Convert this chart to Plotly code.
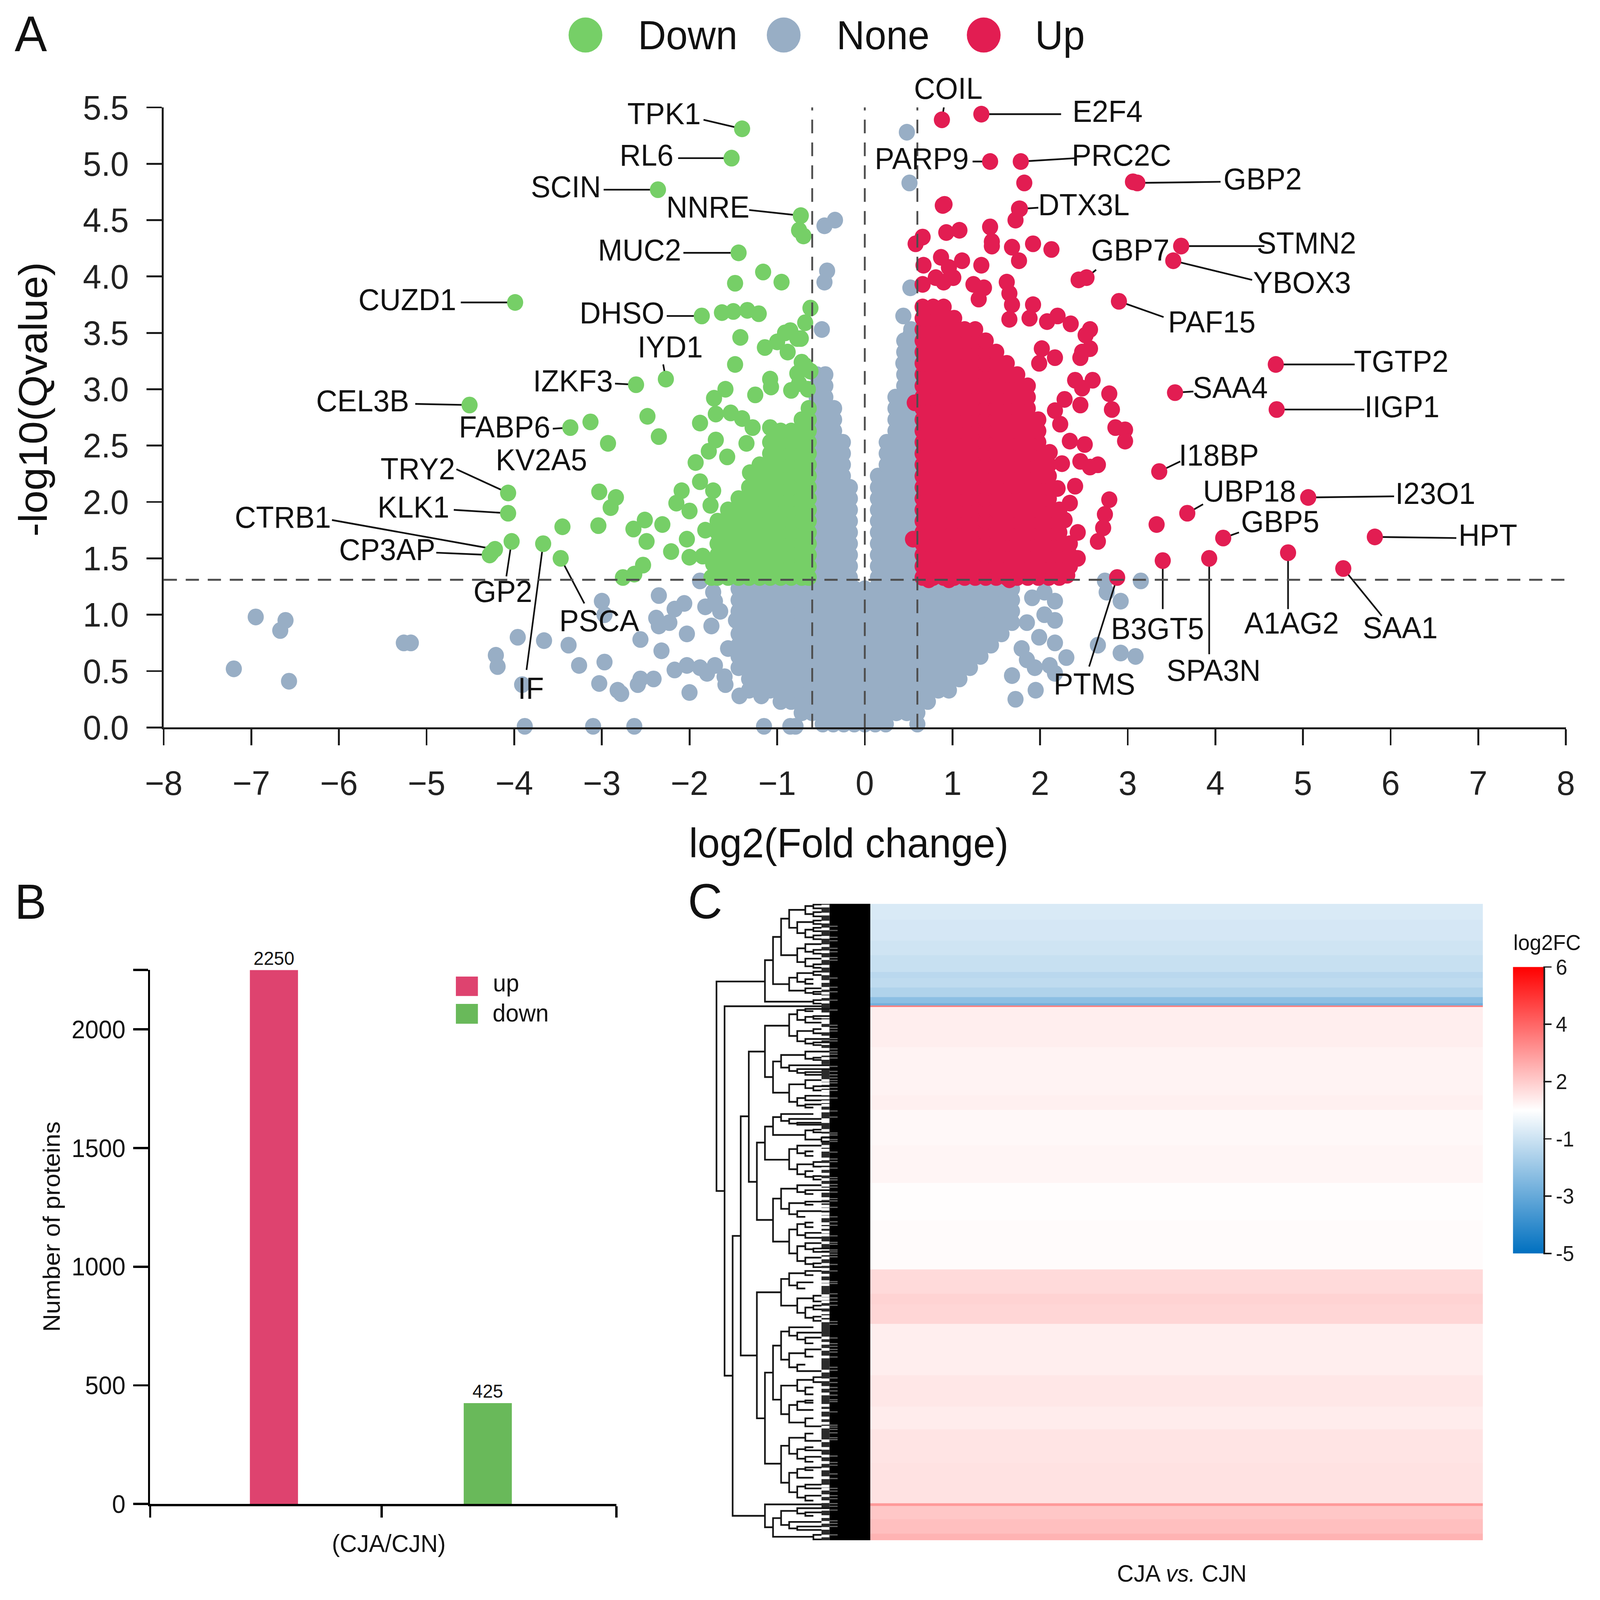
import numpy as np
import plotly.graph_objects as go

W = 4359
H = 4201
FONT = "Liberation Sans"
INK = "#1c1c1c"

# panel A: labelled proteins (point, label centre, start of leader line)
gene_names = ['TPK1', 'RL6', 'SCIN', 'NNRE', 'MUC2', 'CUZD1', 'DHSO', 'IYD1', 'IZKF3', 'CEL3B', 'FABP6', 'TRY2',
              'KLK1', 'CTRB1', 'CP3AP', 'GP2', 'IF', 'PSCA']
gene_x = [-1.40, -1.52, -2.36, -0.73, -1.44, -3.99, -1.86, -2.27, -2.61, -4.51, -3.36, -4.07,
          -4.07, -4.22, -4.28, -4.03, -3.67, -3.47]
gene_y = [5.31, 5.05, 4.77, 4.54, 4.21, 3.77, 3.65, 3.09, 3.04, 2.86, 2.66, 2.08,
          1.90, 1.58, 1.53, 1.65, 1.63, 1.50]
text_x = [-2.29, -2.49, -3.41, -1.79, -2.57, -5.22, -2.77, -2.22, -3.33, -5.73, -4.11, -5.10,
          -5.15, -6.64, -5.45, -4.13, -3.81, -3.03]
text_y = [5.42, 5.05, 4.77, 4.59, 4.21, 3.77, 3.65, 3.35, 3.05, 2.87, 2.64, 2.27,
          1.93, 1.84, 1.55, 1.18, 0.32, 0.92]
lead_x = [-1.84, -2.13, -2.98, -1.32, -2.07, -4.61, -2.26, -2.30, -2.85, -5.13, -3.56, -4.66,
          -4.69, -6.08, -4.89, -4.09, -3.86, -3.20]
lead_y = [5.39, 5.05, 4.77, 4.59, 4.21, 3.77, 3.65, 3.22, 3.05, 2.87, 2.65, 2.29,
          1.93, 1.84, 1.55, 1.34, 0.51, 1.10]

# COIL sits above the axis range, so its label goes with the annotations further down
up_names = ['E2F4', 'PARP9', 'PRC2C', 'GBP2', 'DTX3L', 'STMN2', 'YBOX3', 'GBP7', 'PAF15', 'TGTP2', 'SAA4',
            'IIGP1', 'I18BP', 'UBP18', 'I23O1', 'GBP5', 'HPT', 'A1AG2', 'SAA1', 'SPA3N', 'B3GT5', 'PTMS']
up_x = [1.33, 1.43, 1.78, 3.11, 1.77, 3.61, 3.52, 2.53, 2.90, 4.69, 3.54,
        4.70, 3.36, 3.68, 5.06, 4.09, 5.82, 4.83, 5.46, 3.93, 3.40, 2.88]
up_y = [5.44, 5.02, 5.02, 4.83, 4.60, 4.27, 4.14, 3.99, 3.78, 3.22, 2.97,
        2.82, 2.27, 1.90, 2.04, 1.68, 1.69, 1.55, 1.41, 1.50, 1.48, 1.33]
up_text_x = [2.77, 0.65, 2.93, 4.54, 2.50, 5.04, 4.99, 3.03, 3.96, 6.12, 4.17,
             6.13, 4.04, 4.39, 6.51, 4.74, 7.11, 4.87, 6.11, 3.98, 3.34, 2.62]
up_text_y = [5.44, 5.02, 5.05, 4.84, 4.61, 4.27, 3.92, 4.21, 3.57, 3.22, 2.99,
             2.82, 2.39, 2.07, 2.05, 1.80, 1.68, 0.90, 0.86, 0.48, 0.85, 0.36]
up_lead_x = [2.24, 1.23, 2.41, 4.06, 1.98, 4.56, 4.42, 2.64, 3.41, 5.59, 3.75,
             5.70, 3.60, 3.86, 6.04, 4.27, 6.75, 4.83, 5.90, 3.93, 3.40, 2.56]
up_lead_y = [5.44, 5.02, 5.05, 4.84, 4.61, 4.27, 3.97, 4.06, 3.64, 3.22, 2.98,
             2.82, 2.36, 1.98, 2.05, 1.73, 1.68, 1.05, 0.99, 0.65, 1.05, 0.54]
coil_x = [0.88, 0.91]
coil_y = [5.39, 5.54]

# unlabelled outliers
down_x = [-0.75, -0.70, -1.48, -1.16, -0.95, -1.63, -1.50, -1.34, -1.21, -1.42, -1.48, -1.14, -0.91, -0.88, -1.00,
          -0.77, -0.62, -0.68, -0.85, -0.73, -1.08, -1.07, -1.25, -0.84, -1.59, -1.72, -0.77, -0.72, -0.68, -0.62,
          -0.75, -0.65, -1.70, -1.53, -1.40, -1.28, -1.88, -1.70, -1.78, -1.57, -1.35, -1.31, -1.08, -3.13, -2.93,
          -2.48, -2.35, -3.03, -2.84, -2.90, -3.04, -3.45, -2.64, -2.51, -2.49, -2.31, -2.21, -2.53, -2.63, -2.76,
          -1.93, -1.88, -1.73, -2.09, -2.15, -2.00, -1.76, -2.03, -2.00, -1.85, -1.73, -1.75, -1.82, -4.26]
down_y = [4.41, 4.36, 3.94, 4.04, 3.95, 3.68, 3.69, 3.70, 3.67, 3.46, 3.22, 3.37, 3.50, 3.33, 3.42,
          3.45, 3.72, 3.59, 3.52, 3.45, 3.09, 3.02, 2.95, 2.99, 3.00, 2.92, 3.14, 3.24, 3.21, 3.16,
          3.05, 3.00, 2.78, 2.79, 2.74, 2.66, 2.70, 2.55, 2.45, 2.40, 2.52, 2.26, 2.66, 2.71, 2.52,
          2.76, 2.58, 2.09, 2.04, 1.95, 1.79, 1.78, 1.76, 1.84, 1.65, 1.80, 1.56, 1.44, 1.36, 1.33,
          2.35, 2.18, 2.10, 2.10, 1.99, 1.92, 1.97, 1.67, 1.51, 1.52, 1.45, 1.33, 1.75, 1.55]
other_up_x = [0.89, 0.91, 1.82, 1.76, 1.72, 0.93, 1.08, 1.43, 1.45, 1.45, 0.66, 0.58, 1.68, 1.92, 2.13, 1.76,
              0.87, 1.11, 1.33, 0.67, 0.96, 0.81, 1.01, 0.90, 0.66, 1.24, 1.36, 1.30, 1.62, 1.65, 1.68, 1.92,
              1.88, 1.65, 2.08, 2.20, 2.35, 2.57, 2.52, 2.57, 2.48, 2.46, 2.02, 2.17, 1.99, 2.60, 2.40, 2.48,
              2.79, 2.82, 2.86, 2.97, 2.97, 2.46, 2.28, 2.17, 2.51, 2.46, 2.66, 2.57, 2.23, 2.34, 2.11, 2.25,
              2.40, 2.20, 2.34, 2.08, 2.28, 2.43, 2.17, 2.79, 2.74, 2.72, 2.66, 2.43, 2.31, 2.17, 2.05, 2.22,
              0.57, 0.55, 0.73, 0.96, 1.65, 3.33, 3.06, 2.44, 0.88]
other_up_y = [4.63, 4.64, 4.83, 4.60, 4.50, 4.39, 4.41, 4.44, 4.31, 4.27, 4.35, 4.29, 4.26, 4.29, 4.24, 4.14,
              4.17, 4.14, 4.10, 4.10, 4.08, 3.99, 3.99, 3.95, 3.93, 3.93, 3.90, 3.80, 3.95, 3.85, 3.75, 3.75,
              3.63, 3.62, 3.60, 3.65, 3.58, 3.53, 3.48, 3.36, 3.33, 3.28, 3.36, 3.28, 3.23, 3.08, 3.08, 3.01,
              2.96, 2.82, 2.66, 2.64, 2.54, 2.86, 2.91, 2.81, 2.51, 2.36, 2.33, 2.31, 2.69, 2.54, 2.44, 2.34,
              2.14, 2.12, 1.99, 1.99, 1.84, 1.73, 1.74, 2.02, 1.89, 1.77, 1.65, 1.50, 1.35, 1.55, 1.40, 1.62,
              2.88, 1.67, 1.31, 1.31, 1.31, 1.80, 4.84, 3.97, 5.39]
none_x = [0.48, 0.51, -0.46, -0.34, -0.46, -0.49, 0.44, 0.52, 0.52, 0.44, -0.43,
          -8.02, -6.95, -6.61, -6.67, -7.20, -6.57, -5.26, -5.18, -3.96, -4.21, -4.19, -3.91, -3.88, -3.66, -3.38,
          -3.26, -3.00, -2.97, -2.97, -3.03, -2.82, -2.78, -3.10, -2.63, -2.56, -2.35, -2.38, -2.35, -2.32, -2.56,
          -2.41, -2.59, -2.17, -2.06, -2.23, -2.03, -2.17, -2.03, -1.88, -1.71, -1.80, -2.00, -1.59, -1.43, -1.18,
          -1.15, -0.85, -0.79, -1.88, -1.73, -1.82, -1.71, -1.47, -1.56, -1.65, -1.60, -1.75,
          1.68, 1.94, 2.17, 2.11, 1.79, 1.99, 2.17, 1.85, 2.05, 2.17, 1.91, 2.17, 2.05, 2.66, 2.92, 3.09, 2.92, 2.74,
          3.15, 2.76, 1.72, 1.85, 1.95, 2.30]
none_y = [5.28, 4.83, 4.45, 4.50, 3.95, 3.53, 3.65, 3.90, 3.48, 3.23, 4.05,
          1.31, 0.98, 0.95, 0.86, 0.52, 0.41, 0.75, 0.75, 0.80, 0.64, 0.54, 0.38, 0.01, 0.77, 0.73,
          0.55, 1.12, 1.00, 0.58, 0.39, 0.33, 0.30, 0.01, 0.01, 0.78, 1.17, 0.97, 0.90, 0.68, 0.43,
          0.43, 0.38, 1.05, 1.10, 0.93, 0.83, 0.51, 0.55, 0.53, 0.55, 0.48, 0.31, 0.38, 0.28, 0.28,
          0.01, 0.01, 0.01, 1.30, 1.20, 1.07, 1.12, 0.95, 0.70, 1.03, 0.45, 0.90,
          0.46, 0.53, 0.48, 0.55, 0.70, 0.80, 0.75, 0.93, 1.00, 0.95, 1.15, 1.12, 1.20, 0.73, 0.66, 0.63, 1.12, 1.30,
          1.30, 1.20, 0.25, 0.60, 0.33, 0.62]

# the solid masses, where single points cannot be read: rows and how far each column fills them
mass_rows = [0.03, 0.13, 0.23, 0.33, 0.43, 0.53, 0.63, 0.73, 0.83, 0.93, 1.03, 1.13, 1.23, 1.33, 1.43, 1.53, 1.63, 1.73,
             1.83, 1.93, 2.03, 2.13, 2.23, 2.33, 2.43, 2.53, 2.63, 2.73, 2.83, 2.93, 3.03, 3.13, 3.23, 3.33, 3.43,
             3.53, 3.63, 3.73]
mass_down_x = [-1.68, -1.56, -1.44, -1.32, -1.20, -1.08, -0.96, -0.84, -0.72, -0.64]
mass_down_from = [13, 13, 13, 13, 13, 13, 13, 13, 13, 13]
mass_down_to = [19, 20, 21, 22, 24, 26, 27, 27, 28, 29]
mass_up_x = [0.66, 0.78, 0.90, 1.02, 1.14, 1.26, 1.38, 1.50, 1.62, 1.74, 1.86, 1.98, 2.10, 2.22, 2.34]
mass_up_from = [13, 13, 13, 13, 13, 13, 13, 13, 13, 13, 13, 13, 13, 13, 14]
mass_up_to = [38, 38, 38, 37, 36, 36, 35, 34, 33, 32, 31, 28, 24, 20, 17]
mass_none_x = [-1.44, -1.32, -1.20, -1.08, -0.96, -0.84, -0.72, -0.60, -0.48, -0.36, -0.24, -0.12, 0.00, 0.12, 0.24,
               0.36, 0.48, 0.60, 0.72, 0.84, 0.96, 1.08, 1.20, 1.32, 1.44, 1.56, 1.68,
               -0.55, -0.45, -0.35, -0.25, -0.17, 0.15, 0.25, 0.35, 0.45, 0.53]
mass_none_from = [5, 3, 3, 3, 2, 2, 1, 1, 0, 0, 0, 0, 0, 0, 0, 1, 1, 0, 2, 3, 3, 4, 5, 6, 7, 8, 9,
                  13, 13, 13, 13, 13, 13, 13, 13, 13, 13]
mass_none_to = [13, 13, 13, 13, 13, 13, 13, 13, 13, 13, 13, 13, 13, 13, 13, 13, 13, 13, 13, 13, 13, 13, 13, 13, 13, 13,
                13, 32, 32, 29, 26, 22, 23, 26, 30, 35, 36]

fc_cut = 0.6
q_cut = 1.31

# panel B
bar_pos = [0, 1]
bar_counts = [2250, 425]
bar_colors = ['#DE436F', '#69B95A']
count_ticks = [0, 500, 1000, 1500, 2000, 2250]
count_tick_text = ['0', '500', '1000', '1500', '2000', '']

# panel C: one column, bands top to bottom, log2FC of each band
heat_edges = [2373, 2415, 2470, 2508, 2552, 2568, 2593, 2618, 2634, 2640, 2644, 2749, 2876, 2914, 3007, 3106, 3205,
              3333, 3397, 3424, 3476, 3611, 3693, 3753, 3841, 3947, 3954, 3989, 4027, 4044]
heat_log2fc = [-0.62, -0.75, -0.9, -1.1, -1.35, -1.25, -1.55, -2.25, -2.75, 3.5, 1.0, 0.85, 0.95, 0.7, 0.8, 0.55, 0.62,
               1.6, 1.8, 1.7, 1.0, 1.2, 1.05, 1.3, 1.35, 3.0, 2.1, 2.25, 2.5]
cbar_ticks = [-5, -3, -1, 2, 4, 6]

# dendrogram: depth, top row, bottom row, depth reached by top arm, depth reached by bottom arm
dendro_branches = [
    (14, 2577, 3127, 8, 13), (13, 2642, 3612, 1, 12), (12, 3245, 3980, 11, 8), (11, 2931, 3559, 10, 9),
    (10, 2761, 3103, 8, 9), (9, 3000, 3203, 8, 7), (9, 3393, 3724, 6, 8),
    (8, 2521, 2630, 7, 2), (7, 2460, 2584, 6, 5), (6, 2412, 2508, 5, 4), (5, 2389, 2436, 3, 4), (3, 2379, 2400, 2, 2),
    (2, 2375, 2385, 1, 1), (2, 2395, 2406, 1, 1), (4, 2421, 2450, 2, 3), (2, 2417, 2426, 1, 1), (3, 2441, 2461, 2, 2),
    (2, 2436, 2445, 1, 1), (2, 2456, 2466, 1, 1), (4, 2490, 2526, 3, 3), (3, 2479, 2499, 1, 2), (2, 2494, 2504, 1, 1),
    (3, 2517, 2537, 1, 2), (2, 2532, 2541, 1, 1), (5, 2567, 2601, 4, 3), (4, 2555, 2578, 2, 3), (2, 2551, 2560, 1, 1),
    (3, 2571, 2583, 2, 2), (3, 2595, 2607, 1, 2), (2, 2604, 2610, 1, 1), (2, 2626, 2635, 1, 1),
    (8, 2693, 2828, 5, 7), (7, 2787, 2869, 6, 5), (6, 2770, 2803, 3, 5), (5, 2797, 2812, 0, 4), (4, 2807, 2817, 0, 3),
    (3, 2815, 2822, 1, 1), (5, 2663, 2720, 4, 4), (4, 2652, 2678, 3, 3), (3, 2649, 2655, 0, 2), (3, 2670, 2685, 2, 1),
    (2, 2668, 2675, 0, 1), (4, 2707, 2734, 2, 3), (2, 2702, 2713, 1, 1), (3, 2728, 2740, 0, 2), (2, 2737, 2744, 0, 1),
    (5, 2847, 2893, 3, 4), (3, 2836, 2857, 1, 2), (2, 2852, 2863, 0, 1), (4, 2883, 2903, 3, 3), (3, 2877, 2889, 1, 1),
    (3, 2900, 2908, 1, 2), (3, 2761, 2780, 0, 2), (2, 2777, 2783, 1, 1),
    (8, 2958, 3045, 7, 5), (7, 2933, 2980, 6, 3), (6, 2925, 2943, 2, 5), (5, 2938, 2950, 1, 4), (4, 2948, 2953, 1, 1),
    (3, 2968, 2992, 2, 1), (2, 2966, 2973, 1, 1), (1, 2987, 2997, 0, 0), (5, 3017, 3070, 4, 4), (4, 3008, 3028, 1, 3),
    (3, 3023, 3035, 2, 2), (4, 3057, 3083, 2, 3), (2, 3051, 3063, 1, 1), (3, 3075, 3090, 2, 2), (2, 3088, 3097, 1, 1),
    (7, 3147, 3260, 6, 5), (6, 3121, 3174, 4, 5), (4, 3112, 3130, 1, 3), (3, 3125, 3135, 0, 2), (5, 3159, 3188, 3, 4),
    (3, 3155, 3163, 0, 2), (4, 3180, 3195, 1, 3), (5, 3228, 3291, 4, 4), (4, 3214, 3243, 3, 3), (3, 3210, 3222, 2, 2),
    (3, 3237, 3250, 1, 1), (4, 3272, 3311, 3, 3), (3, 3264, 3280, 1, 2), (2, 3278, 3287, 0, 0), (3, 3302, 3319, 1, 2),
    (2, 3317, 3327, 1, 1),
    (6, 3358, 3428, 5, 4), (5, 3343, 3375, 3, 4), (3, 3337, 3348, 1, 2), (4, 3367, 3383, 2, 3), (4, 3409, 3447, 2, 3),
    (2, 3402, 3417, 1, 1), (3, 3433, 3460, 2, 2), (2, 3428, 3438, 1, 1), (2, 3457, 3468, 1, 1),
    (8, 3604, 3843, 7, 6), (7, 3533, 3675, 6, 6), (6, 3496, 3570, 5, 5), (5, 3485, 3507, 2, 4), (4, 3499, 3517, 1, 3),
    (3, 3512, 3527, 1, 2), (5, 3553, 3590, 3, 4), (3, 3543, 3562, 1, 2), (4, 3583, 3600, 3, 1),
    (6, 3638, 3713, 4, 5), (4, 3623, 3652, 2, 3), (2, 3616, 3629, 1, 1), (3, 3643, 3661, 2, 2), (5, 3689, 3735, 4, 3),
    (4, 3680, 3702, 3, 2), (3, 3677, 3683, 2, 2), (3, 3724, 3745, 2, 1),
    (6, 3796, 3893, 5, 5), (5, 3775, 3817, 3, 4), (3, 3764, 3783, 2, 1), (4, 3805, 3830, 3, 3), (3, 3800, 3808, 2, 1),
    (3, 3825, 3838, 1, 2), (5, 3867, 3918, 4, 4), (4, 3857, 3880, 3, 2), (3, 3853, 3860, 1, 2), (4, 3903, 3932, 3, 3),
    (3, 3898, 3908, 1, 1), (3, 3927, 3940, 1, 2),
    (8, 3950, 4010, 1, 7), (7, 3986, 4035, 6, 2), (6, 3967, 4004, 4, 5), (4, 3960, 3974, 0, 3), (3, 3971, 3980, 1, 2),
    (5, 3996, 4013, 1, 4), (4, 4008, 4017, 1, 1), (2, 4030, 4042, 1, 1),
]
leaf_gap_rows = [2379, 2400, 2421, 2439, 2461, 2483, 2499, 2517, 2537, 2557, 2577, 2595, 2608, 2617, 2631,
                 2662, 2670, 2680, 2685, 2700, 2707, 2723, 2728, 2740, 2755, 2761, 2768, 2779, 2798, 2803,
                 2837, 2845, 2855, 2865, 2872, 2883, 2893, 2902, 2917, 2940, 2945, 2968, 2980, 2992, 3010,
                 3020, 3043, 3057, 3068, 3083, 3097, 3112, 3122, 3128, 3147, 3156, 3167, 3175, 3187, 3195,
                 3213, 3223, 3235, 3243, 3263, 3280, 3292, 3303, 3320, 3333, 3348, 3365, 3373, 3402, 3410,
                 3418, 3432, 3447, 3457, 3468, 3513, 3527, 3543, 3563, 3600, 3623, 3643, 3660, 3690, 3703,
                 3723, 3737, 3747, 3783, 3803, 3823, 3840, 3857, 3880, 3902, 3910, 3927, 3943, 3963, 3982,
                 3997, 4013, 4033]
leaf_streak_rows = [2432, 2443, 2461, 2470, 2490, 2499, 2514, 2521, 2568, 2592, 2604, 2626,
                    2652, 2692, 2700, 2707, 2727, 2733, 2754, 2762, 2768, 2778, 2800, 2813, 2822, 2830, 2837, 2843,
                    2855, 2863, 2883, 2917, 2933, 2975, 2980, 2992, 2997, 3025, 3043, 3050, 3067, 3092, 3098, 3110,
                    3117, 3130, 3147, 3153, 3170, 3195, 3208, 3217, 3245, 3262, 3267, 3282, 3287, 3293, 3300, 3320,
                    3337, 3365, 3370, 3397, 3408, 3417, 3427, 3470, 3477, 3513, 3528, 3535, 3543, 3550, 3563, 3590,
                    3598, 3618, 3630, 3643, 3652, 3663, 3675, 3680, 3707, 3742, 3747, 3753, 3762, 3775, 3780, 3823,
                    3840, 3847, 3870, 3882, 3908, 3915, 3927, 3935, 3948, 3955, 3965, 3993, 4000, 4008, 4030]


def px(x):
    return x / W


def py(y):
    return 1 - y / H


def mass_points(cols, start, stop):
    xs, ys = [], []
    for cx, a, b in zip(cols, start, stop):
        rows = mass_rows[a:b]
        xs += [cx] * len(rows)
        ys += rows
    return xs, ys


fig = go.Figure()

# panel A
mn_x, mn_y = mass_points(mass_none_x, mass_none_from, mass_none_to)
fig.add_trace(go.Scatter(x=none_x + mn_x, y=none_y + mn_y, mode='markers',
                         marker=dict(color='#98AEC5', size=44), cliponaxis=False, name='None'))

leader_x, leader_y = list(coil_x) + [None], list(coil_y) + [None]
for sx, sy, ex, ey in zip(lead_x + up_lead_x, lead_y + up_lead_y, gene_x + up_x, gene_y + up_y):
    leader_x += [sx, ex, None]
    leader_y += [sy, ey, None]
fig.add_trace(go.Scatter(x=leader_x, y=leader_y, mode='lines', line=dict(color='#111111', width=4.5),
                         cliponaxis=False, name='leaders'))

md_x, md_y = mass_points(mass_down_x, mass_down_from, mass_down_to)
fig.add_trace(go.Scatter(x=down_x + md_x + gene_x, y=down_y + md_y + gene_y, mode='markers',
                         marker=dict(color='#76CF67', size=44), cliponaxis=False, name='Down'))
mu_x, mu_y = mass_points(mass_up_x, mass_up_from, mass_up_to)
fig.add_trace(go.Scatter(x=other_up_x + mu_x + up_x, y=other_up_y + mu_y + up_y, mode='markers',
                         marker=dict(color='#E21D52', size=44), cliponaxis=False, name='Up'))

for cut in [-fc_cut, 0, fc_cut]:
    fig.add_trace(go.Scatter(x=[cut, cut], y=[0, 5.5], mode='lines',
                             line=dict(color='#4d4d4d', width=5, dash='36px,24px'), name='cut'))
fig.add_trace(go.Scatter(x=[-8, 8], y=[q_cut, q_cut], mode='lines',
                         line=dict(color='#4d4d4d', width=5, dash='36px,24px'), name='cut'))

fig.add_trace(go.Scatter(x=text_x + up_text_x + [-3.69], y=text_y + up_text_y + [2.35],
                         text=gene_names + up_names + ['KV2A5'], mode='text', textposition='middle center',
                         textfont=dict(family=FONT, size=80, color='#111111'), cliponaxis=False, name='genes'))

# panel B
fig.add_trace(go.Bar(x=bar_pos, y=bar_counts, width=[0.225, 0.225], marker=dict(color=bar_colors, line_width=0),
                     text=[str(v) for v in bar_counts], textposition='outside', cliponaxis=False,
                     textfont=dict(family=FONT, size=50, color='#111111'), xaxis='x2', yaxis='y2', name='proteins'))

# panel C, the colour bar has evenly spaced ticks that are not evenly spaced in log2FC
fig.add_trace(go.Heatmap(x=[0, 1], y=heat_edges, z=[[v] for v in np.interp(heat_log2fc, cbar_ticks, range(6))],
                         zmin=0, zmax=5, colorscale=[[0, '#0070C0'], [0.5, '#FFFFFF'], [1, '#FF0000']],
                         xaxis='x3', yaxis='y3', name='log2FC',
                         colorbar=dict(x=px(4122), xanchor='left', xpad=0, y=py(2539), yanchor='top', ypad=0,
                                       thickness=83, thicknessmode='pixels', len=752, lenmode='pixels',
                                       outlinewidth=0, ticks='outside', ticklen=23, tickwidth=4, tickcolor=INK,
                                       tickvals=list(range(6)), ticktext=[str(t) for t in cbar_ticks],
                                       tickfont=dict(family=FONT, size=56, color=INK))))

# dendrogram drawn on depth levels against the heatmap rows
fig.add_trace(go.Scatter(x=[1, 0, 0, 1, 1], y=[2373, 2373, 4044, 4044, 2373], mode='lines', fill='toself',
                         fillcolor='#2b2b2b', line_width=0, xaxis='x4', yaxis='y3', name='leaves'))
gap_x, gap_y = [], []
for r in leaf_gap_rows:
    gap_x += [1.05, 0, None]
    gap_y += [r, r, None]
fig.add_trace(go.Scatter(x=gap_x, y=gap_y, mode='lines', line=dict(color='#ffffff', width=7), xaxis='x4', yaxis='y3',
                         name='gaps'))
tree_x, tree_y = [], []
for depth, top, bottom, end_top, end_bottom in dendro_branches:
    tree_x += [end_top, depth, depth, end_bottom, None]
    tree_y += [top, top, bottom, bottom, None]
fig.add_trace(go.Scatter(x=tree_x, y=tree_y, mode='lines', line=dict(color='#151515', width=4.5), xaxis='x4',
                         yaxis='y3', name='tree'))
fig.add_trace(go.Scatter(x=[0, -5.05, -5.05, 0, 0], y=[2371, 2371, 4046, 4046, 2371], mode='lines', fill='toself',
                         fillcolor='#000000', line_width=0, xaxis='x4', yaxis='y3', name='leaves'))
streak_x, streak_y = [], []
for r in leaf_streak_rows:
    streak_x += [0, -1, None]
    streak_y += [r, r, None]
fig.add_trace(go.Scatter(x=streak_x, y=streak_y, mode='lines', line=dict(color='#6a6a6a', width=3), xaxis='x4',
                         yaxis='y3', name='streaks'))

axis_a = dict(showgrid=False, zeroline=False, showline=True, linewidth=5, linecolor=INK, ticks='outside', ticklen=42,
              tickwidth=5, tickcolor=INK, tickfont=dict(family=FONT, size=90, color='#222222'))
axis_b = dict(showgrid=False, zeroline=False, showline=True, linewidth=6, linecolor='#000000', ticks='outside',
              tickwidth=6, tickcolor='#000000', tickfont=dict(family=FONT, size=66, color='#111111'))
hidden = dict(visible=False)

fig.update_layout(
    width=W, height=H, autosize=False, showlegend=False,
    margin=dict(l=0, r=0, t=0, b=0, pad=0, autoexpand=False),
    paper_bgcolor='white', plot_bgcolor='rgba(0,0,0,0)',
    xaxis=dict(axis_a, domain=[px(446), px(4266)], range=[-8, 8], dtick=1, ticklabelstandoff=22, anchor='y'),
    yaxis=dict(axis_a, domain=[py(1910), py(282)], range=[0, 5.5], dtick=0.5, tickformat='.1f', ticklabelstandoff=30,
               anchor='x'),
    xaxis2=dict(axis_b, domain=[px(409), px(1679)], range=[-0.579, 1.601], tickvals=[-0.579, 0.504, 1.601],
                ticktext=['', '', ''], ticklen=30, anchor='y2'),
    yaxis2=dict(axis_b, domain=[py(3949), py(2547)], range=[0, 2250], tickvals=count_ticks, ticktext=count_tick_text,
                ticklen=40, ticklabelstandoff=8, anchor='x2'),
    xaxis3=dict(hidden, domain=[px(2371), px(4040)], range=[0, 1], anchor='y3'),
    yaxis3=dict(hidden, domain=[py(4044), py(2373)], range=[4044, 2373], anchor='x3'),
    xaxis4=dict(hidden, domain=[px(1940), px(2371)], range=[14.545, -5.045], anchor='y3'),
)

# key for panel A and panel B, axis titles and panel letters
for cx, col in [(1595, '#76CF67'), (2135, '#98AEC5'), (2680, '#E21D52')]:
    fig.add_shape(type='circle', xref='paper', yref='paper', x0=px(cx - 46), x1=px(cx + 46), y0=py(92 + 46),
                  y1=py(92 - 46), fillcolor=col, line_width=0)
for y0, y1, col in [(2564, 2615, '#DE436F'), (2636, 2688, '#69B95A')]:
    fig.add_shape(type='rect', xref='paper', yref='paper', x0=px(1242), x1=px(1302), y0=py(y1), y1=py(y0),
                  fillcolor=col, line_width=0)
fig.add_shape(type='line', xref='paper', yref='paper', x0=px(4207), x1=px(4207), y0=py(2539), y1=py(3291),
              line=dict(color=INK, width=5))

notes = [
    ('A', 84, 88, 132, 0), ('B', 83, 2367, 130, 0), ('C', 1921, 2366, 130, 0),
    ('Down', 1873, 92, 106, 0), ('None', 2405, 92, 106, 0), ('Up', 2888, 92, 106, 0),
    ('COIL', 2583, 231, 80, 0),
    ('log2(Fold change)', 2312, 2213, 108, 0), ('-log10(Qvalue)', 90, 1049, 109, -90),
    ('Number of proteins', 140, 3221, 65, -90), ('(CJA/CJN)', 1059, 4052, 65, 0),
    ('up', 1378, 2581, 64, 0), ('down', 1418, 2660, 64, 0),
    ('CJA <i>vs.</i> CJN', 3220, 4131, 63, 0), ('log2FC', 4215, 2474, 57, 0),
]
for text, x, y, size, angle in notes:
    fig.add_annotation(text=text, xref='paper', yref='paper', x=px(x), y=py(y), xanchor='center', yanchor='middle',
                       showarrow=False, textangle=angle, font=dict(family=FONT, size=size, color='#111111'))

# the browser window can be smaller than asked for (it stops at 4096), so fit the page to whatever it really is
fit_page = ("document.documentElement.style.overflow='hidden';var s=document.body.style;s.margin='0';"
            "s.width='%dpx';s.height='%dpx';s.transformOrigin='0 0';"
            "s.transform='scale('+innerWidth/%d+','+innerHeight/%d+')';" % (W, H, W, H))
fig.write_html("out.html", post_script=fit_page, config={'displayModeBar': False})
